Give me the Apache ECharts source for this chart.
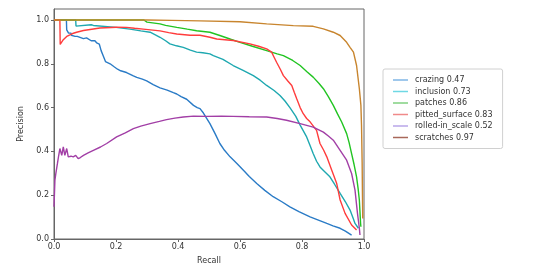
<!DOCTYPE html>
<html><head><meta charset="utf-8">
<script src="https://cdn.jsdelivr.net/npm/echarts@6/dist/echarts.min.js"></script>
<style>html,body{margin:0;padding:0;background:#fff}#c{width:543px;height:277px}</style>
</head><body><div id="c"></div>
<script>
const seriesNames = ['crazing 0.47','inclusion 0.73','patches 0.86','pitted_surface 0.83','rolled-in_scale 0.52','scratches 0.97'];
const xTicks = [0, 0.2, 0.4, 0.6, 0.8, 1.0];
const yTicks = [0, 0.2, 0.4, 0.6, 0.8, 1.0];

const crazing = [[0,1],[0.04,1],[0.041,0.955],[0.046,0.955],[0.047,0.94],[0.055,0.94],[0.056,0.93],[0.068,0.925],[0.075,0.925],[0.095,0.915],[0.105,0.918],[0.12,0.905],[0.132,0.905],[0.138,0.895],[0.146,0.89],[0.152,0.86],[0.159,0.835],[0.166,0.81],[0.181,0.8],[0.195,0.785],[0.205,0.775],[0.215,0.768],[0.234,0.76],[0.256,0.745],[0.267,0.738],[0.285,0.73],[0.299,0.722],[0.32,0.705],[0.342,0.69],[0.365,0.68],[0.385,0.668],[0.396,0.662],[0.41,0.65],[0.428,0.638],[0.45,0.61],[0.462,0.6],[0.471,0.595],[0.482,0.575],[0.493,0.55],[0.503,0.527],[0.52,0.48],[0.535,0.436],[0.55,0.405],[0.568,0.375],[0.59,0.345],[0.611,0.314],[0.63,0.285],[0.654,0.253],[0.68,0.222],[0.707,0.193],[0.735,0.17],[0.761,0.147],[0.79,0.125],[0.826,0.101],[0.855,0.085],[0.88,0.071],[0.9,0.06],[0.923,0.049],[0.94,0.036],[0.96,0.018]];
const inclusion = [[0,1],[0.07,1],[0.071,0.972],[0.12,0.978],[0.127,0.975],[0.2,0.966],[0.245,0.958],[0.28,0.95],[0.31,0.944],[0.33,0.93],[0.342,0.921],[0.36,0.905],[0.374,0.891],[0.395,0.882],[0.417,0.875],[0.44,0.862],[0.46,0.853],[0.48,0.85],[0.503,0.845],[0.514,0.837],[0.545,0.82],[0.578,0.792],[0.61,0.77],[0.643,0.746],[0.665,0.725],[0.686,0.701],[0.71,0.678],[0.729,0.655],[0.745,0.63],[0.761,0.6],[0.78,0.56],[0.794,0.52],[0.815,0.466],[0.825,0.43],[0.836,0.39],[0.847,0.355],[0.858,0.329],[0.875,0.305],[0.89,0.284],[0.905,0.25],[0.923,0.208],[0.94,0.17],[0.955,0.132],[0.965,0.095],[0.971,0.071],[0.982,0.049]];
const patches = [[0,1],[0.29,1],[0.3,0.99],[0.342,0.982],[0.36,0.975],[0.396,0.966],[0.43,0.958],[0.46,0.951],[0.503,0.944],[0.535,0.929],[0.57,0.912],[0.6,0.898],[0.64,0.88],[0.686,0.86],[0.72,0.845],[0.74,0.837],[0.77,0.815],[0.794,0.792],[0.815,0.765],[0.836,0.739],[0.855,0.71],[0.869,0.686],[0.885,0.65],[0.901,0.61],[0.915,0.57],[0.928,0.534],[0.944,0.481],[0.952,0.44],[0.96,0.39],[0.968,0.34],[0.976,0.284],[0.981,0.23],[0.985,0.178],[0.989,0.071],[0.99,0.056]];
const pittedSurface = [[0,1],[0.019,1],[0.02,0.888],[0.03,0.91],[0.041,0.925],[0.06,0.938],[0.073,0.944],[0.095,0.952],[0.127,0.959],[0.148,0.963],[0.202,0.967],[0.234,0.966],[0.26,0.962],[0.288,0.958],[0.342,0.95],[0.37,0.942],[0.396,0.936],[0.439,0.93],[0.471,0.93],[0.503,0.921],[0.525,0.913],[0.578,0.906],[0.632,0.891],[0.66,0.88],[0.686,0.868],[0.702,0.853],[0.71,0.83],[0.718,0.807],[0.73,0.775],[0.74,0.746],[0.755,0.72],[0.767,0.701],[0.775,0.67],[0.783,0.64],[0.794,0.6],[0.804,0.572],[0.815,0.55],[0.826,0.535],[0.847,0.496],[0.858,0.436],[0.87,0.405],[0.88,0.375],[0.896,0.314],[0.912,0.253],[0.923,0.178],[0.939,0.117],[0.96,0.064],[0.976,0.041]];
const rolledInScale = [[0,0.147],[0.003,0.269],[0.006,0.3],[0.011,0.344],[0.015,0.38],[0.019,0.413],[0.022,0.405],[0.025,0.382],[0.03,0.42],[0.035,0.382],[0.041,0.413],[0.046,0.375],[0.055,0.378],[0.062,0.375],[0.07,0.382],[0.078,0.367],[0.085,0.372],[0.095,0.382],[0.11,0.393],[0.127,0.405],[0.15,0.42],[0.17,0.436],[0.202,0.466],[0.23,0.485],[0.256,0.504],[0.28,0.515],[0.31,0.527],[0.34,0.537],[0.363,0.545],[0.39,0.552],[0.417,0.557],[0.45,0.561],[0.493,0.56],[0.54,0.561],[0.578,0.56],[0.63,0.558],[0.686,0.557],[0.72,0.55],[0.75,0.542],[0.794,0.527],[0.836,0.511],[0.869,0.488],[0.885,0.47],[0.901,0.451],[0.923,0.405],[0.944,0.36],[0.96,0.299],[0.971,0.223],[0.979,0.117],[0.985,0.049],[0.987,0.018]];
const scratches = [[0,1],[0.3,1],[0.38,0.998],[0.471,0.996],[0.6,0.992],[0.686,0.982],[0.772,0.974],[0.836,0.971],[0.869,0.959],[0.901,0.944],[0.923,0.929],[0.944,0.898],[0.955,0.875],[0.966,0.853],[0.976,0.792],[0.985,0.686],[0.99,0.61],[0.992,0.519],[0.994,0.35],[0.995,0.2],[0.996,0.094]];

const seriesData = [crazing, inclusion, patches, pittedSurface, rolledInScale, scratches];
const lineColors = ['#2a7bc6','#1ea8b0','#22c422','#ff3c3c','#a23fa6','#c8852e'];
const legendColors = ['#7fb6e6','#6fd8e4','#80d080','#f08a8a','#b9a6e8','#a8685a'];

const font = 'DejaVu Sans';
const chart = echarts.init(document.getElementById('c'), null, {renderer:'canvas'});
chart.setOption({
  animation: false,
  backgroundColor: '#fff',
  grid: {left: 54, right: 179, top: 9, bottom: 38, show: true, borderColor: '#666', borderWidth: 1, backgroundColor: 'transparent'},
  xAxis: {
    type: 'value', min: 0, max: 1, interval: 0.2,
    name: 'Recall', nameLocation: 'middle', nameGap: 18,
    nameTextStyle: {fontFamily: font, fontSize: 8, color: '#333'},
    axisLine: {show: true, lineStyle: {color: '#666', width: 1}},
    axisTick: {show: true, length: 3, lineStyle: {color: '#666'}},
    axisLabel: {fontFamily: font, fontSize: 8, color: '#333', margin: 4,
      formatter: v => xTicks.some(t => Math.abs(t - v) < 1e-9) ? v.toFixed(1) : ''},
    splitLine: {show: false}
  },
  yAxis: {
    type: 'value', min: 0, max: 1.05, interval: 0.2,
    name: 'Precision', nameLocation: 'middle', nameGap: 25, nameRotate: 90,
    nameTextStyle: {fontFamily: font, fontSize: 8, color: '#333'},
    axisLine: {show: true, lineStyle: {color: '#666', width: 1}},
    axisTick: {show: true, length: 3, lineStyle: {color: '#666'}},
    axisLabel: {fontFamily: font, fontSize: 8, color: '#333', margin: 5, showMaxLabel: false,
      formatter: v => yTicks.some(t => Math.abs(t - v) < 1e-9) ? v.toFixed(1) : ''},
    splitLine: {show: false}
  },
  legend: {
    orient: 'vertical', left: 383, top: 69,
    width: 120,
    padding: [6, 10, 6, 10],
    backgroundColor: '#fff', borderColor: '#d0d0d0', borderWidth: 1, borderRadius: 2,
    icon: 'rect', itemWidth: 15, itemHeight: 1.5, itemGap: 1.5,
    textStyle: {fontFamily: font, fontSize: 8, color: '#333', lineHeight: 10, padding: [0,0,0,2]},
    data: seriesNames.map((n, i) => ({name: n, itemStyle: {color: legendColors[i]}}))
  },
  series: seriesData.map((d, i) => ({
    name: seriesNames[i], type: 'line', data: d, symbol: 'none', showSymbol: false,
    lineStyle: {color: lineColors[i], width: 1.4}, itemStyle: {color: lineColors[i]},
    clip: true
  }))
});
</script></body></html>
